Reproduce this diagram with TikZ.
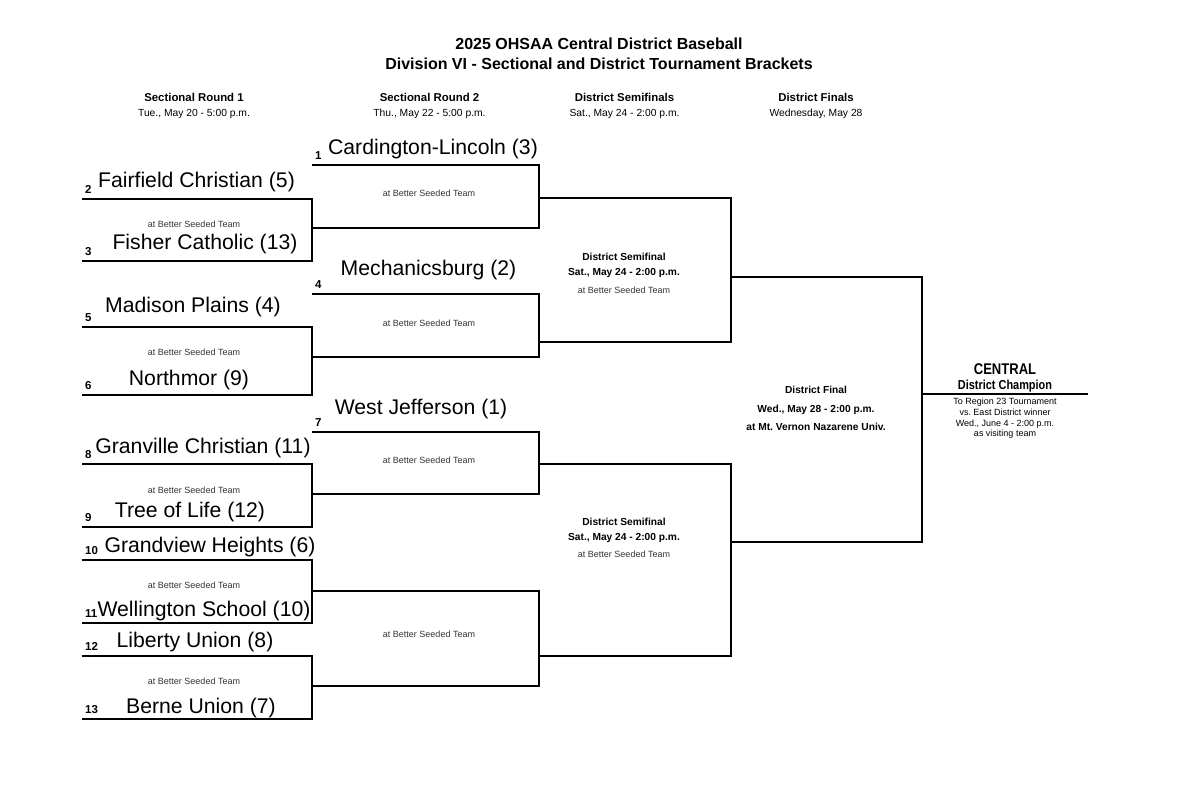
\documentclass[tikz,border=0pt]{standalone}
\usepackage{fontspec}
\setmainfont{Liberation Sans}
\newfontfamily\narrowfont[FakeStretch=0.84]{Liberation Sans}
\usetikzlibrary{positioning}
\frenchspacing

\tikzset{
  bracket/.style={draw=black, line width=1.9pt},
  team/.style={anchor=base, inner sep=0pt, font=\fontsize{21.2}{24}\selectfont},
  seed/.style={inner sep=0pt, font=\fontsize{11.5}{13}\selectfont\bfseries},
  venue/.style={anchor=base, inner sep=0pt, text=black!80, font=\fontsize{9}{10}\selectfont},
  gamehead/.style={anchor=base, inner sep=0pt, font=\fontsize{10.2}{12}\selectfont\bfseries},
  roundhead/.style={anchor=base, inner sep=0pt, font=\fontsize{11.4}{13}\selectfont\bfseries},
  rounddate/.style={anchor=base, inner sep=0pt, font=\fontsize{10.3}{12}\selectfont},
  titletext/.style={anchor=base, inner sep=0pt, font=\fontsize{16}{19}\selectfont\bfseries},
  champnote/.style={anchor=base, inner sep=0pt, font=\fontsize{9}{10}\selectfont},
}

\begin{document}
\begin{tikzpicture}[x=1pt, y=-1pt]
\useasboundingbox (0,0) rectangle (1200,798);

% === Title and round headers ===
\node[titletext] (title1) at (599,49) {2025 OHSAA Central District Baseball};
\node[titletext] (title2) at (599,69) {Division VI - Sectional and District Tournament Brackets};

\node[roundhead] (head1) at (194,101) {Sectional Round 1};
\node[rounddate] (date1) at (194,116) {Tue., May 20 - 5:00 p.m.};
\node[roundhead] (head2) at (429.5,101) {Sectional Round 2};
\node[rounddate] (date2) at (429.5,116) {Thu., May 22 - 5:00 p.m.};
\node[roundhead] (head3) at (624.5,101) {District Semifinals};
\node[rounddate] (date3) at (624.5,116) {Sat., May 24 - 2:00 p.m.};
\node[roundhead] (head4) at (816,101) {District Finals};
\node[rounddate] (date4) at (816,116) {Wednesday, May 28};

% === Column ends ===
\coordinate (r1end) at (312,0);
\coordinate (r2end) at (539,0);
\coordinate (sfend) at (731,0);
\coordinate (fend) at (922,0);

% === Sectional Round 1 ===
\coordinate (s2) at (82,199);
\coordinate (s3) at (82,261);
\coordinate (s5) at (82,327);
\coordinate (s6) at (82,395);
\coordinate (s8) at (82,464);
\coordinate (s9) at (82,527);
\coordinate (s10) at (82,560);
\coordinate (s11) at (82,623);
\coordinate (s12) at (82,656);
\coordinate (s13) at (82,719);

\draw[bracket] (s2) -- (s2 -| r1end) |- (s3);
\draw[bracket] (s5) -- (s5 -| r1end) |- (s6);
\draw[bracket] (s8) -- (s8 -| r1end) |- (s9);
\draw[bracket] (s10) -- (s10 -| r1end) |- (s11);
\draw[bracket] (s12) -- (s12 -| r1end) |- (s13);

\node[team] (fairfield) at (196.5,187) {Fairfield Christian (5)};
\node[team] (fisher) at (205,249) {Fisher Catholic (13)};
\node[team] (madison) at (193,312) {Madison Plains (4)};
\node[team] (northmor) at (189,385) {Northmor (9)};
\node[team] (granville) at (203,453) {Granville Christian (11)};
\node[team] (treeoflife) at (190,517) {Tree of Life (12)};
\node[team] (grandview) at (210,552) {Grandview Heights (6)};
\node[team] (wellington) at (204,616) {Wellington School (10)};
\node[team] (liberty) at (195,647) {Liberty Union (8)};
\node[team] (berne) at (201,713) {Berne Union (7)};

\node[seed, above right=5pt and 3pt of s2] (seed2) {2};
\node[seed, above right=5pt and 3pt of s3] (seed3) {3};
\node[seed, above right=5pt and 3pt of s5] (seed5) {5};
\node[seed, above right=5pt and 3pt of s6] (seed6) {6};
\node[seed, above right=5pt and 3pt of s8] (seed8) {8};
\node[seed, above right=5pt and 3pt of s9] (seed9) {9};
\node[seed, above right=5pt and 3pt of s10] (seed10) {10};
\node[seed, above right=5pt and 3pt of s11] (seed11) {11};
\node[seed, above right=5pt and 3pt of s12] (seed12) {12};
\node[seed, above right=5pt and 3pt of s13] (seed13) {13};

\node[venue] (v1) at (194,227) {at Better Seeded Team};
\node[venue] (v2) at (194,355) {at Better Seeded Team};
\node[venue] (v3) at (194,493) {at Better Seeded Team};
\node[venue] (v4) at (194,588) {at Better Seeded Team};
\node[venue] (v5) at (194,684) {at Better Seeded Team};

% === Sectional Round 2 ===
\coordinate (s1) at (312,165);
\coordinate (w1) at (312,228);
\coordinate (s4) at (312,294);
\coordinate (w2) at (312,357);
\coordinate (s7) at (312,432);
\coordinate (w3) at (312,494);
\coordinate (w4) at (312,591);
\coordinate (w5) at (312,686);

\draw[bracket] (s1) -- (s1 -| r2end) |- (w1);
\draw[bracket] (s4) -- (s4 -| r2end) |- (w2);
\draw[bracket] (s7) -- (s7 -| r2end) |- (w3);
\draw[bracket] (w4) -- (w4 -| r2end) |- (w5);

\node[team] (cardington) at (433,154) {Cardington-Lincoln (3)};
\node[team] (mechanicsburg) at (428.5,275) {Mechanicsburg (2)};
\node[team] (westjefferson) at (421,414) {West Jefferson (1)};

\node[seed, above right=5pt and 3pt of s1] (seed1) {1};
\node[seed, above right=5pt and 3pt of s4] (seed4) {4};
\node[seed, above right=5pt and 3pt of s7] (seed7) {7};

\node[venue] (v6) at (429,196) {at Better Seeded Team};
\node[venue] (v7) at (429,326) {at Better Seeded Team};
\node[venue] (v8) at (429,463) {at Better Seeded Team};
\node[venue] (v9) at (429,637) {at Better Seeded Team};

% === District Semifinals ===
\coordinate (sf1a) at (539,198);
\coordinate (sf1b) at (539,342);
\coordinate (sf2a) at (539,464);
\coordinate (sf2b) at (539,656);

\draw[bracket] (sf1a) -- (sf1a -| sfend) |- (sf1b);
\draw[bracket] (sf2a) -- (sf2a -| sfend) |- (sf2b);

\node[gamehead] (sf1name) at (624,260) {District Semifinal};
\node[gamehead] (sf1time) at (624,275) {Sat., May 24 - 2:00 p.m.};
\node[venue] (sf1site) at (624,293) {at Better Seeded Team};
\node[gamehead] (sf2name) at (624,525) {District Semifinal};
\node[gamehead] (sf2time) at (624,540) {Sat., May 24 - 2:00 p.m.};
\node[venue] (sf2site) at (624,557) {at Better Seeded Team};

% === District Final ===
\coordinate (fa) at (731,277);
\coordinate (fb) at (731,542);

\draw[bracket] (fa) -- (fa -| fend) |- (fb);

\node[gamehead] (fname) at (816,393) {District Final};
\node[gamehead] (ftime) at (816,412) {Wed., May 28 - 2:00 p.m.};
\node[gamehead] (fsite) at (816,430) {at Mt. Vernon Nazarene Univ.};

% === Champion ===
\coordinate (champ) at (922,394);
\coordinate (champend) at (1088,394);
\draw[bracket] (champ) -- (champend);

\node[anchor=base, inner sep=0pt, font=\narrowfont\fontsize{15.5}{17}\selectfont\bfseries] (central) at (1005,374) {CENTRAL};
\node[anchor=base, inner sep=0pt, font=\narrowfont\fontsize{13}{15}\selectfont\bfseries] (champtitle) at (1005,389) {District Champion};
\node[champnote] (note1) at (1005,404) {To Region 23 Tournament};
\node[champnote] (note2) at (1005,415) {vs. East District winner};
\node[champnote] (note3) at (1005,426) {Wed., June 4 - 2:00 p.m.};
\node[champnote] (note4) at (1005,436.5) {as visiting team};

\end{tikzpicture}
\end{document}
